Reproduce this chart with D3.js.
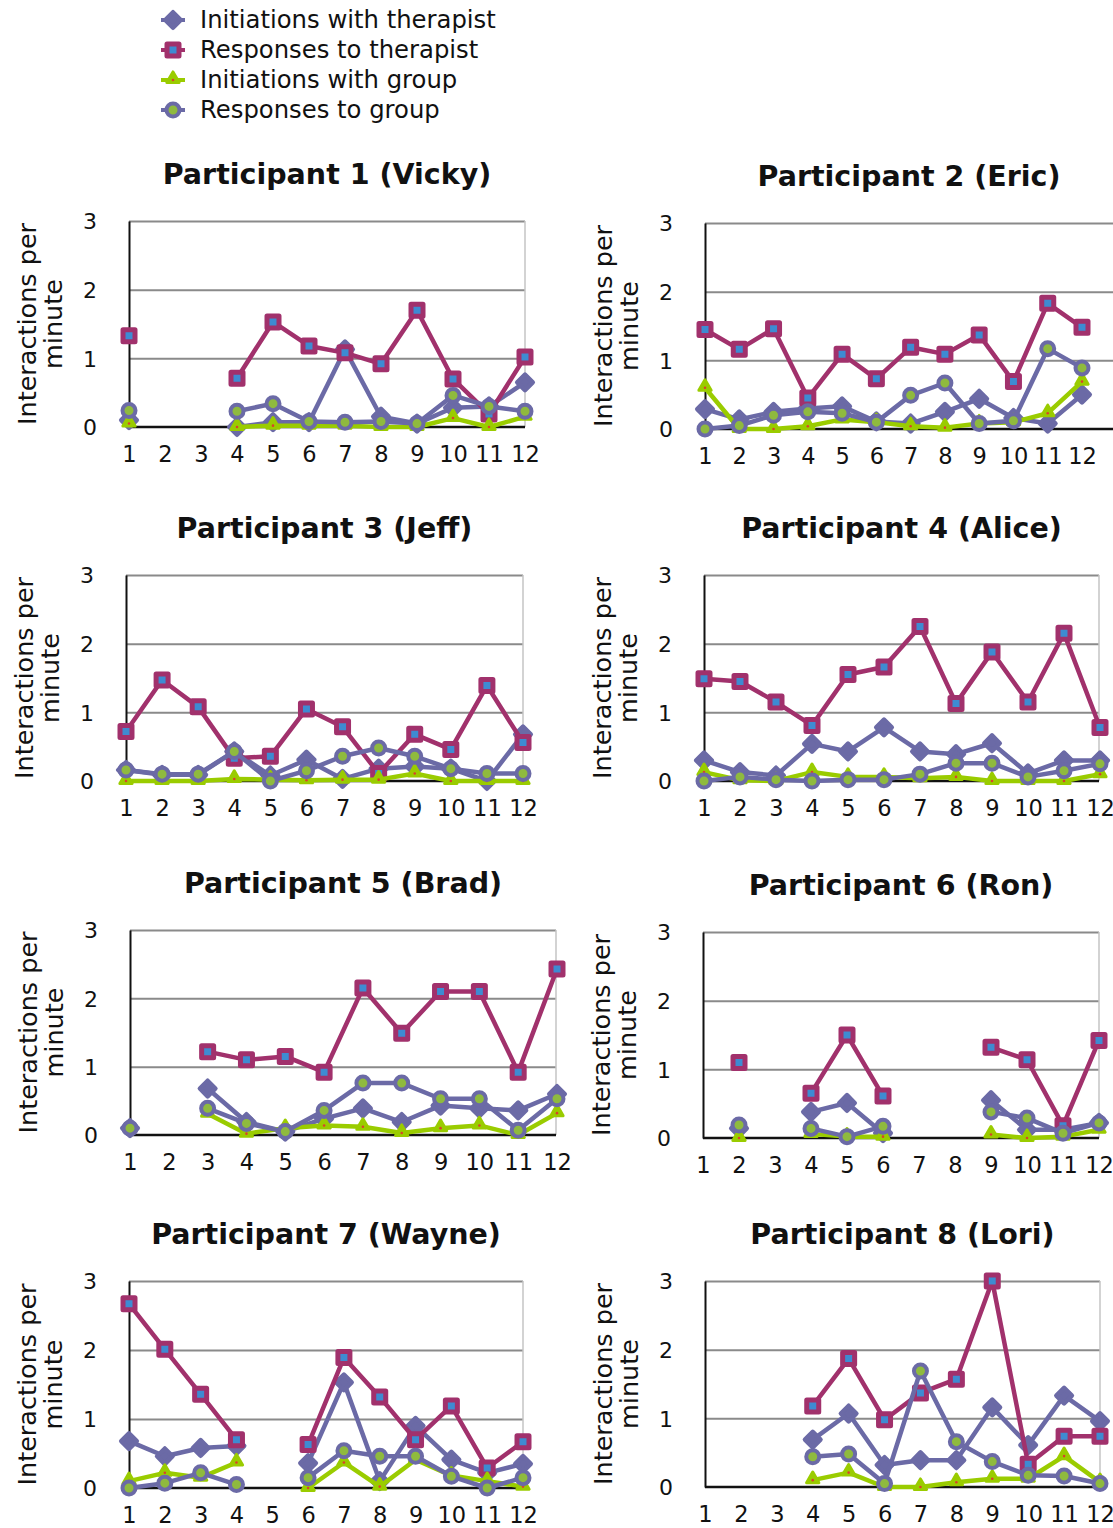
<!DOCTYPE html>
<html>
<head>
<meta charset="utf-8">
<script src="https://cdn.jsdelivr.net/npm/d3@7"></script>
<style>
  body { margin: 0; background: #fff; }
  text { font-family: "DejaVu Sans", sans-serif; fill: #111; }
</style>
</head>
<body>
<script>
// data: sessions 1-12, null = no session
var sessions = [1, 2, 3, 4, 5, 6, 7, 8, 9, 10, 11, 12];
var yTicks = [0, 1, 2, 3];
var titles = ["Participant 1 (Vicky)", "Participant 2 (Eric)", "Participant 3 (Jeff)", "Participant 4 (Alice)",
              "Participant 5 (Brad)", "Participant 6 (Ron)", "Participant 7 (Wayne)", "Participant 8 (Lori)"];
var seriesNames = ["Initiations with therapist", "Responses to therapist", "Initiations with group", "Responses to group"];

var initTherapist = [
  [0.1, null, null, 0, 0.07, 0.07, 1.13, 0.15, 0.05, 0.28, 0.3, 0.65],
  [0.29, 0.14, 0.25, 0.3, 0.33, 0.11, 0.08, 0.25, 0.44, 0.16, 0.08, 0.5],
  [0.16, 0.09, 0.09, 0.43, 0.08, 0.31, 0.03, 0.18, 0.21, 0.18, 0, 0.68],
  [0.3, 0.13, 0.08, 0.54, 0.43, 0.78, 0.43, 0.39, 0.55, 0.11, 0.3, 0.3],
  [0.1, null, 0.68, 0.19, 0.05, 0.24, 0.39, 0.19, 0.43, 0.39, 0.36, 0.6],
  [null, 0.14, null, 0.38, 0.51, 0.07, null, null, 0.55, 0.12, 0.12, 0.22],
  [0.68, 0.46, 0.58, 0.61, null, 0.36, 1.53, 0.1, 0.9, 0.41, 0.22, 0.35],
  [null, null, null, 0.69, 1.07, 0.32, 0.39, 0.39, 1.16, 0.61, 1.33, 0.96]
];
var respTherapist = [
  [1.33, null, null, 0.71, 1.53, 1.18, 1.08, 0.92, 1.7, 0.7, 0.19, 1.02],
  [1.45, 1.16, 1.46, 0.45, 1.09, 0.73, 1.19, 1.09, 1.37, 0.69, 1.83, 1.48],
  [0.72, 1.47, 1.08, 0.33, 0.36, 1.05, 0.79, 0.11, 0.68, 0.46, 1.39, 0.56],
  [1.49, 1.45, 1.15, 0.81, 1.55, 1.66, 2.25, 1.13, 1.88, 1.15, 2.15, 0.78],
  [null, null, 1.22, 1.1, 1.15, 0.92, 2.15, 1.49, 2.1, 2.1, 0.92, 2.43],
  [null, 1.1, null, 0.65, 1.5, 0.61, null, null, 1.32, 1.14, 0.18, 1.42],
  [2.67, 2.01, 1.36, 0.7, null, 0.63, 1.89, 1.32, 0.7, 1.19, 0.29, 0.67],
  [null, null, null, 1.18, 1.87, 0.98, 1.37, 1.57, 3.0, 0.33, 0.74, 0.74]
];
var initGroup = [
  [0.05, null, null, 0, 0.02, 0.02, 0.02, 0, 0, 0.13, 0, 0.15],
  [0.6, 0, 0, 0.04, 0.14, 0.1, 0.04, 0.02, 0.08, 0.1, 0.23, 0.69],
  [0, 0, 0, 0.03, 0.02, 0.01, 0.02, 0.02, 0.11, 0, 0, 0],
  [0.13, 0.01, 0, 0.13, 0.06, 0.06, 0.04, 0.06, 0, 0, 0, 0.1],
  [null, null, 0.31, 0.02, 0.1, 0.14, 0.12, 0.03, 0.1, 0.14, 0, 0.32],
  [null, 0, null, 0.06, 0.02, 0.02, null, null, 0.05, 0, 0.02, 0.12],
  [0.1, 0.22, 0.15, 0.37, null, 0, 0.37, 0.02, 0.41, 0.18, 0.1, 0.02],
  [null, null, null, 0.1, 0.21, 0, 0, 0.07, 0.12, 0.12, 0.45, 0.07]
];
var respGroup = [
  [0.24, null, null, 0.23, 0.34, 0.08, 0.07, 0.08, 0.05, 0.46, 0.3, 0.23],
  [0, 0.05, 0.2, 0.25, 0.23, 0.1, 0.49, 0.67, 0.08, 0.12, 1.17, 0.89],
  [0.16, 0.1, 0.1, 0.43, 0, 0.15, 0.36, 0.48, 0.36, 0.18, 0.11, 0.11],
  [0, 0.06, 0.02, 0, 0.02, 0.02, 0.1, 0.26, 0.26, 0.06, 0.15, 0.25],
  [0.1, null, 0.39, 0.17, 0.05, 0.36, 0.76, 0.76, 0.53, 0.53, 0.07, 0.53],
  [null, 0.19, null, 0.14, 0.02, 0.17, null, null, 0.38, 0.29, 0.07, 0.22],
  [0, 0.07, 0.22, 0.05, null, 0.15, 0.54, 0.46, 0.46, 0.17, 0, 0.15],
  [null, null, null, 0.44, 0.48, 0.05, 1.69, 0.66, 0.37, 0.17, 0.16, 0.05]
];

// panel boxes in page pixels (left axis, last session, right edge, top, baseline)
var panels = [
  {x0: 129, x12: 525, right: 525, top: 221, base: 427},
  {x0: 705, x12: 1082, right: 1120, top: 223, base: 429},
  {x0: 126, x12: 523, right: 523, top: 575, base: 781},
  {x0: 704, x12: 1100, right: 1099, top: 575, base: 781},
  {x0: 130, x12: 557, right: 556, top: 930, base: 1135},
  {x0: 703, x12: 1099, right: 1099, top: 932, base: 1138},
  {x0: 129, x12: 523, right: 523, top: 1281, base: 1488},
  {x0: 705, x12: 1100, right: 1100, top: 1281, base: 1487}
];

var purple = "#6b6aa6", crimson = "#a1316c", blue = "#3e8bd2", lime = "#9acc00", olive = "#8fba3e";

var series = [
  {name: seriesNames[0], values: initTherapist, color: purple, shape: "diamond"},
  {name: seriesNames[1], values: respTherapist, color: crimson, shape: "square"},
  {name: seriesNames[2], values: initGroup, color: lime, shape: "triangle"},
  {name: seriesNames[3], values: respGroup, color: purple, shape: "circle"}
];

var svg = d3.select("body").append("svg")
  .attr("width", 1113)
  .attr("height", 1528);

function drawMarker(g, shape, x, y) {
  if (shape == "diamond") {
    g.append("rect")
      .attr("x", -5.5).attr("y", -5.5).attr("width", 11).attr("height", 11)
      .attr("transform", "translate(" + x + "," + y + ") rotate(45)")
      .attr("fill", purple).attr("stroke", purple)
      .attr("stroke-width", 4.5).attr("stroke-linejoin", "round");
  } else if (shape == "square") {
    g.append("rect")
      .attr("x", x - 6).attr("y", y - 6)
      .attr("width", 12).attr("height", 12)
      .attr("fill", blue).attr("stroke", crimson)
      .attr("stroke-width", 5).attr("stroke-linejoin", "round");
  } else if (shape == "triangle") {
    g.append("path")
      .attr("d", d3.symbol().type(d3.symbolTriangle).size(65)())
      .attr("transform", "translate(" + x + "," + (y - 1) + ")")
      .attr("fill", lime).attr("stroke", lime)
      .attr("stroke-width", 3).attr("stroke-linejoin", "round");
    g.append("circle").attr("cx", x).attr("cy", y).attr("r", 1.3).attr("fill", "#d8432a");
  } else {
    g.append("circle")
      .attr("cx", x).attr("cy", y).attr("r", 6.5)
      .attr("fill", olive).attr("stroke", purple).attr("stroke-width", 4);
  }
}

//legend
var legend = svg.append("g");
series.forEach(function (s, i) {
  var cy = 20 + i * 30;
  legend.append("line")
    .attr("x1", 161).attr("x2", 185).attr("y1", cy).attr("y2", cy)
    .attr("stroke", s.color).attr("stroke-width", 4);
  drawMarker(legend, s.shape, 173, cy);
  legend.append("text")
    .attr("x", 200).attr("y", cy + 8)
    .style("font-size", "24.3px")
    .text(s.name);
});

//panels
panels.forEach(function (p, k) {
  var g = svg.append("g");
  var x = d3.scaleLinear().domain([1, 12]).range([p.x0, p.x12]);
  var y = d3.scaleLinear().domain([0, 3]).range([p.base, p.top]);

  // gridlines
  g.append("g")
    .attr("transform", "translate(" + p.x0 + ",0)")
    .call(d3.axisRight(y).tickValues([1, 2, 3]).tickSize(p.right - p.x0).tickFormat(""))
    .call(function (a) {
      a.select(".domain").remove();
      a.selectAll("line").attr("stroke", "#8a8a8a").attr("stroke-width", 2);
    });
  g.append("line")
    .attr("x1", p.right).attr("x2", p.right).attr("y1", p.top).attr("y2", p.base)
    .attr("stroke", "#c4c4c4").attr("stroke-width", 1.5);

  // y axis
  g.append("g")
    .attr("transform", "translate(" + p.x0 + ",0)")
    .call(d3.axisLeft(y).tickValues(yTicks).tickSize(0).tickPadding(32).tickFormat(d3.format("d")))
    .call(function (a) {
      a.select(".domain").attr("stroke", "#111").attr("stroke-width", 2);
      a.selectAll("text").style("font-size", "22px").attr("dy", "0.36em");
    });

  // x axis
  g.append("g")
    .attr("transform", "translate(0," + p.base + ")")
    .call(d3.axisBottom(x).tickValues(sessions).tickSize(0).tickPadding(19).tickFormat(d3.format("d")))
    .call(function (a) {
      a.select(".domain").attr("d", "M" + p.x0 + ",0H" + p.right)
        .attr("stroke", "#111").attr("stroke-width", 2.5);
      a.selectAll("text").style("font-size", "22.5px");
    });

  // titles
  g.append("text")
    .attr("x", (p.x0 + Math.min(p.right, 1113)) / 2)
    .attr("y", p.top - 37)
    .attr("text-anchor", "middle")
    .style("font-size", "28.5px").style("font-weight", "bold")
    .text(titles[k]);

  var midY = (p.top + p.base) / 2;
  g.append("text")
    .attr("transform", "translate(" + (p.x0 - 93) + "," + midY + ") rotate(-90)")
    .attr("text-anchor", "middle")
    .style("font-size", "25.5px")
    .text("Interactions per");
  g.append("text")
    .attr("transform", "translate(" + (p.x0 - 67) + "," + midY + ") rotate(-90)")
    .attr("text-anchor", "middle")
    .style("font-size", "25.5px")
    .text("minute");

  // series
  series.forEach(function (s) {
    var vals = s.values[k];
    var pts = sessions.map(function (d, i) { return {x: d, v: vals[i]}; });
    var line = d3.line()
      .defined(function (d) { return d.v != null; })
      .x(function (d) { return x(d.x); })
      .y(function (d) { return y(d.v); });
    var sg = g.append("g");
    sg.append("path")
      .datum(pts)
      .attr("d", line)
      .attr("fill", "none")
      .attr("stroke", s.color)
      .attr("stroke-width", 4.5)
      .attr("stroke-linejoin", "round");
    pts.forEach(function (d) {
      if (d.v != null) drawMarker(sg, s.shape, x(d.x), y(d.v));
    });
  });
});
</script>
</body>
</html>
